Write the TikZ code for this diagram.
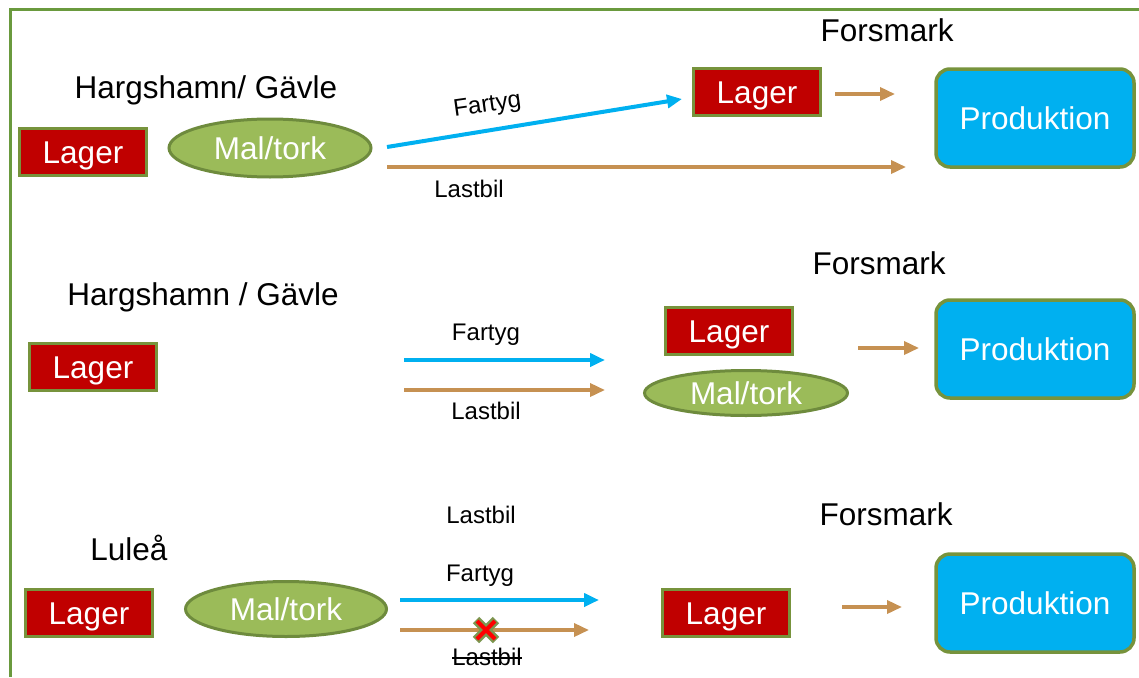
\documentclass[tikz,border=0pt]{standalone}
\usepackage{fontspec}
\setmainfont{Liberation Sans}
\usetikzlibrary{shapes.geometric,arrows.meta}
\definecolor{frameg}{HTML}{6A9A3E}
\definecolor{lagred}{HTML}{C00000}
\definecolor{bordg}{HTML}{77933C}
\definecolor{elfill}{HTML}{9BBB59}
\definecolor{elbord}{HTML}{6E8B3D}
\definecolor{skyb}{HTML}{00B0F0}
\definecolor{truck}{HTML}{C69152}
\tikzset{
  bigfont/.style={font=\fontsize{31.5}{36}\selectfont,text height=22.55pt,text depth=0pt},
  smallfont/.style={font=\fontsize{24}{28}\selectfont,text height=17.2pt,text depth=0pt},
  lagerbox/.style={bigfont,draw=bordg,line width=3pt,fill=lagred,text=white,minimum width=127pt,minimum height=47pt,inner sep=0pt},
  prodbox/.style={bigfont,draw=bordg,line width=3.5pt,fill=skyb,text=white,rounded corners=14pt,minimum width=198pt,minimum height=98pt,inner sep=0pt},
  malel/.style={bigfont,ellipse,draw=elbord,line width=3pt,fill=elfill,text=white,inner sep=0pt},
  bigtxt/.style={bigfont,inner sep=0pt},
  smalltxt/.style={smallfont,inner sep=0pt},
  shiparrow/.style={draw=skyb,line width=4pt,-{Triangle[length=15pt,width=13pt]}},
  truckarrow/.style={draw=truck,line width=3.5pt,-{Triangle[length=15pt,width=13pt]}},
}
\begin{document}
\begin{tikzpicture}[x=1pt,y=-1pt]
\useasboundingbox (0,0) rectangle (1139,677);
% frame
\draw[frameg,line width=3pt] (10,677) -- (10,10) -- (1139,10);

% ---------- section 1 ----------
\node[bigtxt] (fm1) at (887,30) {Forsmark};
\node[bigtxt] (hg1) at (206,87) {Hargshamn/ Gävle};
\node[lagerbox] (lagA1) at (83,152) {Lager};
\node[malel,minimum width=202pt,minimum height=58pt] (mal1) at (270,148) {Mal/tork};
\node[lagerbox] (lagB1) at (757,92) {Lager};
\node[prodbox] (prod1) at (1035,118) {Produktion};
\coordinate (s1f) at (387,147);
\coordinate (e1f) at (682,99);
\coordinate (s1t) at (387,167);
\coordinate (e1t) at (906,167);
\coordinate (s1p) at (835,94);
\coordinate (e1p) at (895,94);
\draw[shiparrow] (s1f) -- (e1f);
\draw[truckarrow] (s1t) -- (e1t);
\draw[truckarrow] (s1p) -- (e1p);
\node[smalltxt,rotate=8] (far1) at (487,103) {Fartyg};
\node[smalltxt] (last1) at (469,189) {Lastbil};

% ---------- section 2 ----------
\node[bigtxt] (fm2) at (879,263) {Forsmark};
\node[bigtxt] (hg2) at (203,294) {Hargshamn / Gävle};
\node[lagerbox] (lagA2) at (93,367) {Lager};
\node[lagerbox] (lagB2) at (729,331) {Lager};
\node[malel,minimum width=203pt,minimum height=45pt] (mal2) at (746,393) {Mal/tork};
\node[prodbox] (prod2) at (1035,349) {Produktion};
\coordinate (s2f) at (404,360);
\coordinate (e2f) at (605,360);
\coordinate (s2t) at (404,390);
\coordinate (e2t) at (605,390);
\coordinate (s2p) at (858,348);
\coordinate (e2p) at (919,348);
\draw[shiparrow] (s2f) -- (e2f);
\draw[truckarrow] (s2t) -- (e2t);
\draw[truckarrow] (s2p) -- (e2p);
\node[smalltxt] (far2) at (486,332) {Fartyg};
\node[smalltxt] (last2) at (486,411) {Lastbil};

% ---------- section 3 ----------
\node[bigtxt] (fm3) at (886,514) {Forsmark};
\node[smalltxt] (last3a) at (481,515) {Lastbil};
\node[bigtxt] (lul) at (129,549) {Luleå};
\node[lagerbox] (lagA3) at (89,613) {Lager};
\node[malel,minimum width=201pt,minimum height=55pt] (mal3) at (286,609) {Mal/tork};
\node[lagerbox] (lagB3) at (726,613) {Lager};
\node[prodbox] (prod3) at (1035,603) {Produktion};
\coordinate (s3f) at (400,600);
\coordinate (e3f) at (599,600);
\coordinate (s3t) at (400,630);
\coordinate (e3t) at (589,630);
\coordinate (s3p) at (842,607);
\coordinate (e3p) at (902,607);
\draw[shiparrow] (s3f) -- (e3f);
\draw[truckarrow] (s3t) -- (e3t);
\draw[truckarrow] (s3p) -- (e3p);
\node[smalltxt] (far3) at (480,573) {Fartyg};
\node[smalltxt] (last3) at (487,657) {Lastbil};
\draw[black,line width=1.2pt] ([yshift=-1pt]last3.west) -- ([yshift=-1pt]last3.east);
% red cross
\coordinate (xc) at (486,630);
\draw[elbord!90,line width=9pt] ([shift={(-10,-10)}]xc) -- ([shift={(10,10)}]xc) ([shift={(-10,10)}]xc) -- ([shift={(10,-10)}]xc);
\draw[red,line width=4pt] ([shift={(-9,-9)}]xc) -- ([shift={(9,9)}]xc) ([shift={(-9,9)}]xc) -- ([shift={(9,-9)}]xc);
\end{tikzpicture}
\end{document}
